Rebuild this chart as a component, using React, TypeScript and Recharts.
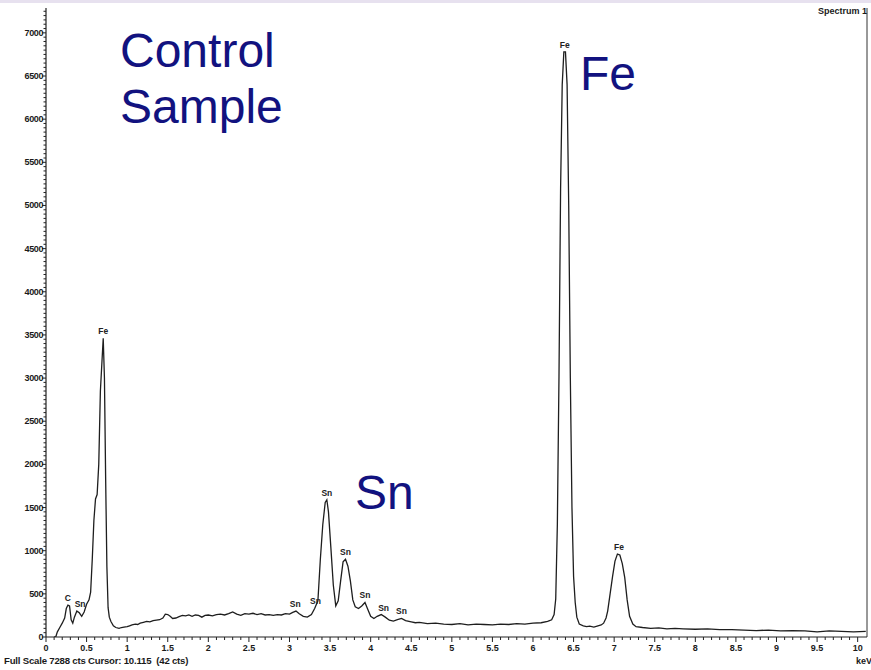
import React from 'react';
import { LineChart, Line, XAxis, YAxis, ReferenceLine, ReferenceDot } from 'recharts';

const energy = [
  0.10, 0.12, 0.14, 0.17, 0.20, 0.23, 0.25, 0.27, 0.29, 0.31, 0.33, 0.35, 0.38, 0.41, 0.44, 0.47, 0.50, 0.53, 0.55, 0.57,
  0.59, 0.61, 0.63, 0.65, 0.67, 0.69, 0.705, 0.72, 0.735, 0.75, 0.765, 0.78, 0.80, 0.83, 0.86, 0.90, 0.93, 0.96, 1.00, 1.03,
  1.06, 1.10, 1.13, 1.16, 1.20, 1.24, 1.28, 1.32, 1.36, 1.40, 1.44, 1.47, 1.50, 1.53, 1.56, 1.60, 1.64, 1.68, 1.72, 1.76,
  1.80, 1.84, 1.88, 1.92, 1.96, 2.00, 2.05, 2.10, 2.15, 2.20, 2.25, 2.30, 2.35, 2.40, 2.45, 2.50, 2.55, 2.60, 2.65, 2.70,
  2.75, 2.80, 2.85, 2.90, 2.95, 3.00, 3.04, 3.08, 3.12, 3.17, 3.22, 3.27, 3.31, 3.35, 3.38, 3.41, 3.44, 3.46, 3.48, 3.51,
  3.54, 3.57, 3.60, 3.63, 3.66, 3.69, 3.72, 3.75, 3.78, 3.81, 3.85, 3.89, 3.93, 3.96, 4.00, 4.04, 4.08, 4.13, 4.18, 4.23,
  4.28, 4.33, 4.38, 4.43, 4.50, 4.55, 4.60, 4.70, 4.80, 4.90, 5.00, 5.10, 5.20, 5.30, 5.40, 5.50, 5.60, 5.70, 5.80, 5.90,
  6.00, 6.10, 6.18, 6.23, 6.26, 6.28, 6.30, 6.32, 6.34, 6.36, 6.38, 6.40, 6.42, 6.44, 6.46, 6.48, 6.50, 6.52, 6.54, 6.57,
  6.62, 6.66, 6.70, 6.75, 6.80, 6.84, 6.87, 6.90, 6.92, 6.95, 6.98, 7.01, 7.04, 7.07, 7.10, 7.13, 7.16, 7.19, 7.23, 7.27,
  7.35, 7.45, 7.55, 7.65, 7.75, 7.85, 8.00, 8.15, 8.30, 8.45, 8.60, 8.75, 8.90, 9.05, 9.20, 9.35, 9.50, 9.65, 9.80, 9.95,
  10.10,
];

const counts = [
  0, 0, 60, 110, 160, 220, 330, 370, 360, 200, 160, 230, 300, 280, 240, 290, 380, 430, 520, 900,
  1350, 1600, 1650, 2000, 2850, 3200, 3460, 3000, 1830, 820, 340, 230, 180, 130, 110, 100, 110, 115, 120, 130,
  140, 150, 145, 160, 170, 180, 175, 190, 195, 200, 220, 265, 260, 240, 215, 220, 235, 250, 245, 255,
  240, 255, 250, 230, 250, 255, 245, 260, 265, 255, 270, 290, 265, 250, 270, 265, 275, 260, 270, 255,
  260, 250, 260, 255, 270, 265, 285, 300, 270, 240, 230, 260, 330, 420, 900, 1300, 1560, 1590, 1450, 1030,
  600, 360, 420, 650, 870, 900, 820, 650, 430, 350, 330, 360, 400, 330, 240, 215, 240, 260, 230, 195,
  185, 200, 215, 190, 175, 165, 170, 155, 160, 150, 145, 155, 140, 150, 145, 140, 150, 145, 155, 150,
  160, 165, 180, 200, 260, 440, 1300, 3000, 5200, 6400, 6780, 6780, 6400, 5000, 3000, 1500, 700, 400, 230, 150,
  130, 120, 125, 115, 130, 140, 160, 220, 300, 500, 700, 880, 960, 950, 850, 690, 430, 240, 150, 120,
  110, 100, 105, 95, 100, 95, 90, 95, 85, 85, 80, 75, 80, 70, 75, 70, 60, 70, 65, 60,
  65,
];

const peakLabelEnergy = [0.27, 0.42, 0.705, 3.07, 3.32, 3.46, 3.69, 3.93, 4.16, 4.38, 6.39, 7.06];
const peakLabelCounts = [370, 300, 3460, 300, 340, 1590, 900, 400, 260, 215, 6780, 960];
const peakLabelText = ['C', 'Sn', 'Fe', 'Sn', 'Sn', 'Sn', 'Sn', 'Sn', 'Sn', 'Sn', 'Fe', 'Fe'];

const xMajorLabels = ['0', '0.5', '1', '1.5', '2', '2.5', '3', '3.5', '4', '4.5', '5', '5.5', '6', '6.5', '7', '7.5', '8', '8.5', '9', '9.5', '10'];
const yMajorLabels = ['0', '500', '1000', '1500', '2000', '2500', '3000', '3500', '4000', '4500', '5000', '5500', '6000', '6500', '7000'];

const X_MAX = 10.115;
const Y_MAX = 7288;

const xTicks = Array.from({ length: 101 }, (_, i) => Math.round(i * 10) / 100);
const yTicks = Array.from({ length: 146 }, (_, i) => i * 50);

const data = energy.map((e, i) => ({ e, c: counts[i] }));

const tickFont = { fontFamily: 'Liberation Sans, Arial, sans-serif', fontSize: 9, fill: '#1a1a1a' };

const XTick = (props: any) => {
  const { x, y, payload } = props;
  const v = payload.value as number;
  const idx = Math.round(v * 10);
  const major = idx % 5 === 0;
  const label = major ? xMajorLabels[idx / 5] : null;
  return (
    <g>
      <line x1={x} x2={x} y1={y} y2={y + (major ? 5 : 3)} stroke="#222" strokeWidth={1} />
      {label !== null && (
        <text x={x} y={y + 14} textAnchor="middle" {...tickFont} fontWeight={600}>
          {label}
        </text>
      )}
    </g>
  );
};

const YTick = (props: any) => {
  const { x, y, payload } = props;
  const v = payload.value as number;
  const major = v % 500 === 0;
  const label = major ? yMajorLabels[v / 500] : null;
  return (
    <g>
      <line x1={x - (major ? 4 : 2.5)} x2={x} y1={y} y2={y} stroke="#222" strokeWidth={1} />
      {label !== null && (
        <text x={x - 3} y={y + 3} textAnchor="end" {...tickFont} fontWeight={600} letterSpacing={-0.4}>
          {label}
        </text>
      )}
    </g>
  );
};

const bigText: React.CSSProperties = {
  position: 'absolute',
  fontFamily: 'Liberation Sans, Arial, sans-serif',
  fontSize: 48,
  color: '#12127f',
  lineHeight: '56px',
  whiteSpace: 'pre',
};

const smallText: React.CSSProperties = {
  position: 'absolute',
  fontFamily: 'Liberation Sans, Arial, sans-serif',
  fontSize: 9,
  fontWeight: 700,
  color: '#1a1a1a',
  whiteSpace: 'pre',
};

export default function App() {
  return (
    <div style={{ position: 'fixed', left: 0, top: 0, width: 871, height: 670, background: '#fff', overflow: 'hidden' }}>
      <div style={{ position: 'absolute', left: 0, top: 0, width: 871, height: 3, background: '#e7e1ef' }} />
      <LineChart width={871} height={670} data={data} margin={{ top: 8, right: 4, bottom: 0, left: 0 }}>
        <XAxis
          dataKey="e"
          type="number"
          domain={[0, X_MAX]}
          allowDataOverflow
          ticks={xTicks}
          interval={0}
          tick={<XTick />}
          tickLine={false}
          tickSize={0}
          tickMargin={0}
          height={33}
          axisLine={{ stroke: '#222', strokeWidth: 1.2 }}
        />
        <YAxis
          type="number"
          domain={[0, Y_MAX]}
          allowDataOverflow
          ticks={yTicks}
          interval={0}
          tick={<YTick />}
          tickLine={false}
          tickSize={0}
          tickMargin={0}
          width={46}
          axisLine={{ stroke: '#222', strokeWidth: 1.2 }}
        />
        <ReferenceLine x={X_MAX} stroke="#333" strokeWidth={1} ifOverflow="extendDomain" />
        <Line
          type="linear"
          dataKey="c"
          stroke="#1e1e1e"
          strokeWidth={1.3}
          dot={false}
          isAnimationActive={false}
        />
        {peakLabelEnergy.map((e, i) => (
          <ReferenceDot
            key={i}
            x={e}
            y={peakLabelCounts[i]}
            r={0}
            fill="none"
            stroke="none"
            label={{
              value: peakLabelText[i],
              position: 'top',
              offset: 4,
              fontSize: 8.5,
              fontWeight: 600,
              fill: '#222',
              fontFamily: 'Liberation Sans, Arial, sans-serif',
            }}
          />
        ))}
      </LineChart>
      <div style={{ ...bigText, left: 120, top: 23 }}>{'Control\nSample'}</div>
      <div style={{ ...bigText, left: 580, top: 46 }}>Fe</div>
      <div style={{ ...bigText, left: 355, top: 465 }}>Sn</div>
      <div style={{ ...smallText, right: 4, top: 6 }}>Spectrum 1</div>
      <div style={{ ...smallText, left: 4, top: 655, fontSize: 9.6, letterSpacing: -0.2 }}>
        {'Full Scale 7288 cts Cursor: 10.115  (42 cts)'}
      </div>
      <div style={{ ...smallText, left: 856, top: 656 }}>keV</div>
    </div>
  );
}
